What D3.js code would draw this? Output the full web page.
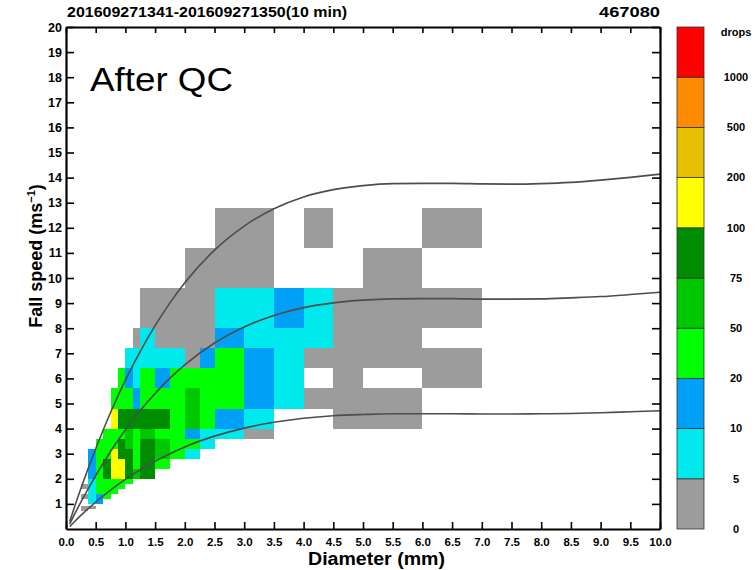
<!DOCTYPE html>
<html>
<head>
<meta charset="utf-8">
<script src="https://cdn.jsdelivr.net/npm/d3@7"></script>
<style>
    body { margin: 0; background: #fff; }
    text { font-family: "Liberation Sans", Arial, Helvetica, sans-serif; }
</style>
</head>
<body>
<div id="chart" style="width:756px;height:570px"></div>
<script>
// Parsivel class edges: diameter (mm) and fall speed (m/s)
const sizeEdges = [0, 0.125, 0.25, 0.375, 0.5, 0.625, 0.75, 0.875, 1.0, 1.125, 1.25,
    1.5, 1.75, 2.0, 2.25, 2.5, 3.0, 3.5, 4.0, 4.5, 5.0, 6.0, 7.0];
const speedEdges = [0, 0.1, 0.2, 0.3, 0.4, 0.5, 0.6, 0.7, 0.8, 0.9, 1.0,
    1.2, 1.4, 1.6, 1.8, 2.0, 2.4, 2.8, 3.2, 3.6, 4.0,
    4.8, 5.6, 6.4, 7.2, 8.0, 9.6, 11.2, 12.8];

// drop counts, one row per speed class (bottom to top), one column per size class
const counts = [
    [0,0,0,0,0,0,0,0,0,0,0,0,0,0,0,0,0,0,0,0,0,0],
    [0,0,0,0,0,0,0,0,0,0,0,0,0,0,0,0,0,0,0,0,0,0],
    [0,0,0,0,0,0,0,0,0,0,0,0,0,0,0,0,0,0,0,0,0,0],
    [0,0,0,0,0,0,0,0,0,0,0,0,0,0,0,0,0,0,0,0,0,0],
    [0,0,0,0,0,0,0,0,0,0,0,0,0,0,0,0,0,0,0,0,0,0],
    [0,0,0,0,0,0,0,0,0,0,0,0,0,0,0,0,0,0,0,0,0,0],
    [0,0,0,0,0,0,0,0,0,0,0,0,0,0,0,0,0,0,0,0,0,0],
    [0,0,1,0,0,0,0,0,0,0,0,0,0,0,0,0,0,0,0,0,0,0],
    [0,0,2,1,0,0,0,0,0,0,0,0,0,0,0,0,0,0,0,0,0,0],
    [0,0,0,0,0,0,0,0,0,0,0,0,0,0,0,0,0,0,0,0,0,0],
    [0,0,0,6,12,0,0,0,0,0,0,0,0,0,0,0,0,0,0,0,0,0],
    [0,0,1,7,13,24,0,0,0,0,0,0,0,0,0,0,0,0,0,0,0,0],
    [0,0,0,8,31,28,22,0,0,0,0,0,0,0,0,0,0,0,0,0,0,0],
    [0,0,2,6,27,38,33,21,0,0,0,0,0,0,0,0,0,0,0,0,0,0],
    [0,0,0,9,26,44,41,36,23,0,0,0,0,0,0,0,0,0,0,0,0,0],
    [0,0,0,14,39,82,146,128,88,63,91,0,0,0,0,0,0,0,0,0,0,0],
    [0,0,0,16,42,79,171,117,86,47,84,36,0,0,0,0,0,0,0,0,0,0],
    [0,0,0,11,35,46,109,80,92,45,87,58,29,8,0,0,0,0,0,0,0,0],
    [0,0,0,0,28,40,48,83,61,43,89,66,34,26,7,0,0,0,0,0,0,0],
    [0,0,0,0,0,25,37,44,57,39,68,41,30,14,9,6,3,0,0,0,0,0],
    [0,0,0,0,0,0,118,94,86,81,90,78,46,55,33,17,8,0,0,2,3,0],
    [0,0,0,0,0,0,27,35,29,16,42,39,31,52,37,24,13,6,2,3,2,0],
    [0,0,0,0,0,0,0,22,12,7,26,15,34,28,25,21,11,8,0,1,0,1],
    [0,0,0,0,0,0,0,0,6,8,9,7,5,3,11,23,14,7,2,1,2,1],
    [0,0,0,0,0,0,0,0,0,2,5,3,4,2,3,12,9,6,5,2,1,0],
    [0,0,0,0,0,0,0,0,0,0,3,2,4,1,3,7,8,10,5,2,3,1],
    [0,0,0,0,0,0,0,0,0,0,0,0,0,1,2,3,2,0,0,0,1,0],
    [0,0,0,0,0,0,0,0,0,0,0,0,0,0,0,1,2,0,1,0,0,1]
];

// empirical fall-speed relation and the +/-50% bounds
const curveSizes = [0.0625, 0.125, 0.25, 0.5, 0.75, 1.0, 1.25, 1.5, 1.75, 2.0, 2.5, 3.0, 3.5,
    4.0, 4.5, 5.0, 5.5, 6.0, 6.5, 7.0, 7.5, 8.0, 8.5, 9.0, 9.5, 10.0];
const upperSpeed = [0.30, 0.75, 1.61, 3.20, 4.64, 5.93, 7.08, 8.10, 9.01, 9.81, 11.11, 12.07, 12.76,
    13.23, 13.52, 13.68, 13.76, 13.77, 13.77, 13.75, 13.74, 13.76, 13.81, 13.90, 14.01, 14.14];
const meanSpeed = [0.20, 0.50, 1.07, 2.13, 3.09, 3.95, 4.72, 5.40, 6.01, 6.54, 7.41, 8.05, 8.51,
    8.82, 9.01, 9.12, 9.17, 9.18, 9.18, 9.16, 9.16, 9.17, 9.21, 9.26, 9.34, 9.43];
const lowerSpeed = [0.10, 0.25, 0.54, 1.07, 1.55, 1.98, 2.36, 2.70, 3.00, 3.27, 3.70, 4.02, 4.25,
    4.41, 4.51, 4.56, 4.59, 4.59, 4.59, 4.58, 4.58, 4.59, 4.60, 4.63, 4.67, 4.71];

const sizeTicks = [0, 0.5, 1, 1.5, 2, 2.5, 3, 3.5, 4, 4.5, 5, 5.5, 6, 6.5, 7, 7.5, 8, 8.5, 9, 9.5, 10];
const speedTicks = [1, 2, 3, 4, 5, 6, 7, 8, 9, 10, 11, 12, 13, 14, 15, 16, 17, 18, 19, 20];

const levelBreaks = [5, 10, 20, 50, 75, 100, 200, 500, 1000];
const levelColors = ["#9c9c9c", "#00e9ec", "#00a0f6", "#00ff00", "#00c800", "#008c00",
    "#ffff00", "#e6bf00", "#ff8c00", "#ff0000"];
const legendLabels = ["0", "5", "10", "20", "50", "75", "100", "200", "500", "1000", "drops"];

class VDPlot {
    constructor({ parent, width = 756, height = 570 }) {
        this.svg = d3.select(parent)
            .append("svg")
            .attr("width", width)
            .attr("height", height);

        this.x = d3.scaleLinear().domain([0, 10]).range([66, 660]);
        this.y = d3.scaleLinear().domain([0, 20]).range([529, 27]);
        this.color = d3.scaleThreshold().domain(levelBreaks).range(levelColors);
    }

    drawCells() {
        const cells = [];
        counts.forEach((row, i) => {
            row.forEach((n, j) => {
                if (n > 0) cells.push({
                    d0: sizeEdges[j], d1: sizeEdges[j + 1],
                    v0: speedEdges[i], v1: speedEdges[i + 1], n: n
                });
            });
        });

        this.svg.append("g")
            .classed("cells", true)
            .selectAll("rect")
            .data(cells)
            .enter().append("rect")
            .attr("x", d => this.x(d.d0))
            .attr("y", d => this.y(d.v1))
            .attr("width", d => this.x(d.d1) - this.x(d.d0))
            .attr("height", d => this.y(d.v0) - this.y(d.v1))
            .attr("shape-rendering", "crispEdges")
            .attr("fill", d => this.color(d.n));
    }

    drawCurves() {
        const line = d3.line()
            .x(d => this.x(d[0]))
            .y(d => this.y(d[1]))
            .curve(d3.curveMonotoneX);

        const g = this.svg.append("g").classed("curves", true);
        [upperSpeed, meanSpeed, lowerSpeed].forEach(speeds => {
            g.append("path")
                .datum(curveSizes.map((s, i) => [s, speeds[i]]))
                .attr("d", line)
                .attr("fill", "none")
                .attr("stroke", "#4d4d4d")
                .attr("stroke-width", 1.6);
        });
    }

    drawAxes() {
        const style = (g) => {
            g.select(".domain").attr("stroke", "#000").attr("stroke-width", 2.2);
            g.selectAll(".tick line").attr("stroke", "#000").attr("stroke-width", 1.6);
            g.selectAll(".tick text")
                .attr("fill", "#000")
                .style("font-family", "'Liberation Sans', Arial, sans-serif")
                .style("font-weight", "bold");
        };

        this.svg.append("g")
            .attr("transform", "translate(0,529)")
            .call(d3.axisBottom(this.x).tickValues(sizeTicks)
                .tickFormat(d3.format(".1f"))
                .tickSizeInner(-7).tickSizeOuter(0).tickPadding(9))
            .call(style)
            .selectAll(".tick text").style("font-size", "11.5px");

        this.svg.append("g")
            .attr("transform", "translate(0,27)")
            .call(d3.axisTop(this.x).tickValues(sizeTicks)
                .tickFormat("").tickSizeInner(-6).tickSizeOuter(0))
            .call(style);

        this.svg.append("g")
            .attr("transform", "translate(66,0)")
            .call(d3.axisLeft(this.y).tickValues(speedTicks)
                .tickSizeInner(-8).tickSizeOuter(0).tickPadding(4))
            .call(style)
            .selectAll(".tick text").style("font-size", "12.5px");

        this.svg.append("g")
            .attr("transform", "translate(660,0)")
            .call(d3.axisRight(this.y).tickValues(speedTicks)
                .tickFormat("").tickSizeInner(-8).tickSizeOuter(0))
            .call(style);
    }

    drawLegend() {
        const band = d3.scaleLinear().domain([0, levelColors.length]).range([529, 27]);
        const legend = this.svg.append("g").classed("legend", true);

        legend.selectAll("rect")
            .data(levelColors)
            .enter().append("rect")
            .attr("x", 677)
            .attr("y", (_, i) => band(i + 1))
            .attr("width", 27)
            .attr("height", (_, i) => band(i) - band(i + 1))
            .attr("fill", d => d)
            .attr("stroke", "#333")
            .attr("stroke-width", 0.8);

        legend.selectAll("text")
            .data(legendLabels)
            .enter().append("text")
            .attr("x", 736)
            .attr("y", (_, i) => i === legendLabels.length - 1 ? band(i) + 5 : band(i))
            .attr("dy", "0.35em")
            .attr("text-anchor", "middle")
            .style("font-size", "11px")
            .style("font-weight", "bold")
            .text(d => d);
    }

    drawLabels() {
        this.svg.append("text")
            .attr("x", 67).attr("y", 17)
            .attr("textLength", 280).attr("lengthAdjust", "spacingAndGlyphs")
            .style("font-size", "14px").style("font-weight", "bold")
            .text("201609271341-201609271350(10 min)");

        this.svg.append("text")
            .attr("x", 599).attr("y", 17)
            .attr("textLength", 61).attr("lengthAdjust", "spacingAndGlyphs")
            .style("font-size", "14px").style("font-weight", "bold")
            .text("467080");

        this.svg.append("text")
            .attr("x", 90).attr("y", 91)
            .attr("textLength", 143).attr("lengthAdjust", "spacingAndGlyphs")
            .style("font-size", "34px")
            .text("After QC");

        this.svg.append("text")
            .attr("x", 308).attr("y", 565)
            .attr("textLength", 137).attr("lengthAdjust", "spacingAndGlyphs")
            .style("font-size", "18px").style("font-weight", "bold")
            .text("Diameter (mm)");

        const yt = this.svg.append("text")
            .attr("transform", "translate(42,256) rotate(-90)")
            .attr("text-anchor", "middle")
            .style("font-size", "18px").style("font-weight", "bold");
        yt.append("tspan").text("Fall speed (ms");
        yt.append("tspan").attr("dy", -7).style("font-size", "11px").text("\u22121");
        yt.append("tspan").attr("dy", 7).text(")");
    }
}

const plot = new VDPlot({ parent: document.getElementById("chart") });
plot.drawCells();
plot.drawCurves();
plot.drawAxes();
plot.drawLegend();
plot.drawLabels();
</script>
</body>
</html>
